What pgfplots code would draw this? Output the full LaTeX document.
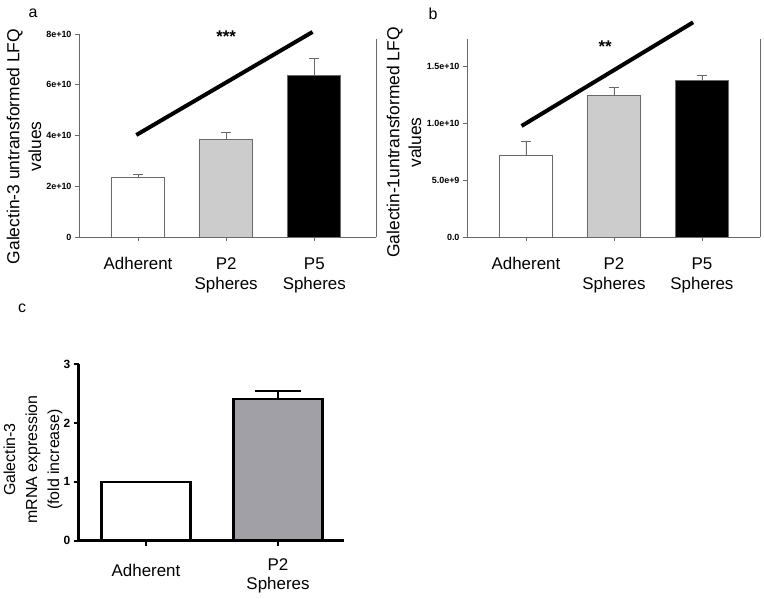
\documentclass[border=0pt]{standalone}
\usepackage{pgfplots}
\pgfplotsset{compat=1.18}
\usepackage{fontspec}
\setmainfont{Liberation Sans}
\definecolor{axgray}{RGB}{105,105,105}
\definecolor{lightbar}{RGB}{204,204,204}
\definecolor{midbar}{RGB}{160,160,166}
\pgfplotsset{
  panelab/.style={
    scale only axis, clip=false,
    axis x line*=bottom, axis y line*=left,
    axis line style={axgray, line width=0.8bp, -},
    every outer x axis line/.append style={-},
    every outer y axis line/.append style={-},
    tick align=outside, major tick length=4bp,
    tick style={axgray, line width=0.8bp},
    scaled y ticks=false,
    yticklabel style={font=\fontsize{9}{10}\selectfont\bfseries},
    xticklabel style={font=\fontsize{17}{20}\selectfont, align=center, yshift=-13bp},
    xtick={0,1,2},
    xticklabels={Adherent,{P2\\Spheres},{P5\\Spheres}},
    ymin=0,
  },
  abbar/.style={ybar, bar width=53bp, bar shift=0pt, draw=axgray, line width=0.8bp,
    error bars/.cd, y dir=plus, y explicit,
    error bar style={axgray, line width=0.8bp},
    error mark options={axgray, line width=0.8bp, mark size=5bp, rotate=90},
    /pgfplots/.cd},
}
\begin{document}
\begin{tikzpicture}
\useasboundingbox (0,0) rectangle (764bp,599bp);
% ---------- panel a ----------
\begin{axis}[panelab,
  at={(79bp,362bp)}, anchor=south west,
  width=297bp, height=203bp,
  xmin=-0.67, xmax=2.70, ymax=8e10,
  ytick={0,2e10,4e10,6e10,8e10},
  yticklabels={0,2e+10,4e+10,6e+10,8e+10},
]
\addplot[fill=white, abbar] coordinates {(0,2.34e10) +- (0,0.14e10)};
\addplot[fill=lightbar, abbar] coordinates {(1,3.86e10) +- (0,0.25e10)};
\addplot[fill=black, abbar] coordinates {(2,6.37e10) +- (0,0.67e10)};
\addplot[black, line width=4bp] coordinates {(-0.02,4.02e10) (1.98,8.08e10)};
\draw[axgray, line width=0.8bp] (rel axis cs:1,0) -- (rel axis cs:1,0.975);
\node[font=\fontsize{17}{17}\selectfont\bfseries, anchor=base] at (axis cs:1,7.68e10) {***};
\end{axis}
% ---------- panel b ----------
\begin{axis}[panelab,
  at={(467bp,362bp)}, anchor=south west,
  width=293bp, height=198bp,
  xmin=-0.67, xmax=2.66, ymax=1.746e10,
  ytick={0,5e9,1e10,1.5e10},
  yticklabels={0.0,5.0e+9,1.0e+10,1.5e+10},
]
\addplot[fill=white, abbar] coordinates {(0,7.23e9) +- (0,1.18e9)};
\addplot[fill=lightbar, abbar] coordinates {(1,12.52e9) +- (0,0.68e9)};
\addplot[fill=black, abbar] coordinates {(2,13.82e9) +- (0,0.40e9)};
\addplot[black, line width=4bp] coordinates {(-0.05,9.79e9) (1.9,18.93e9)};
\draw[axgray, line width=0.8bp] (rel axis cs:1,0) -- (rel axis cs:1,1);
\node[font=\fontsize{17}{17}\selectfont\bfseries, anchor=base] at (axis cs:0.9,16.3e9) {**};
\end{axis}
% ---------- panel c ----------
\begin{axis}[
  at={(78.7bp,58.3bp)}, anchor=south west,
  scale only axis, clip=false,
  width=265.3bp, height=176.7bp,
  xmin=-0.51, xmax=1.5, ymin=0, ymax=3,
  axis x line*=bottom, axis y line*=left,
  axis line style={black, line width=2.5bp, -},
  every outer x axis line/.append style={-},
  every outer y axis line/.append style={-},
  tick align=outside, major tick length=5bp,
  tick style={black, line width=2bp},
  ytick={0,1,2,3},
  xtick={0,1},
  xticklabels={{\raisebox{-6bp}[12bp][0pt]{Adherent}},{P2\\Spheres}},
  /pgf/number format/assume math mode=true,
  yticklabel style={font=\fontsize{12}{13}\selectfont\bfseries},
  xticklabel style={font=\fontsize{17}{20}\selectfont, align=center, yshift=-9bp},
]
\addplot[ybar, bar width=89bp, bar shift=0pt, fill=white, draw=black, line width=2.5bp] coordinates {(0,1.0)};
\addplot[ybar, bar width=89bp, bar shift=0pt, fill=midbar, draw=black, line width=2.5bp,
  error bars/.cd, y dir=plus, y explicit,
  error bar style={black, line width=2bp},
  error mark options={black, line width=2bp, mark size=23bp, rotate=90}] coordinates {(1,2.41) +- (0,0.14)};
\end{axis}
% ---------- labels ----------
\node[rotate=90, align=center, font=\fontsize{17.5}{22}\selectfont] at (24bp,452.5bp) {Galectin-3 untransformed LFQ\\values};
\node[rotate=90, align=center, font=\fontsize{17.5}{22}\selectfont] at (404bp,456.5bp) {Galectin-1untransformed LFQ\\values};
\node[rotate=90, align=center, font=\fontsize{16}{22}\selectfont] at (33bp,139.5bp) {Galectin-3\\mRNA expression\\(fold increase)};
\node[font=\fontsize{16}{16}\selectfont] at (33bp,586bp) {a};
\node[font=\fontsize{16}{16}\selectfont] at (433bp,585bp) {b};
\node[font=\fontsize{16}{16}\selectfont] at (22bp,291bp) {c};
\end{tikzpicture}
\end{document}
